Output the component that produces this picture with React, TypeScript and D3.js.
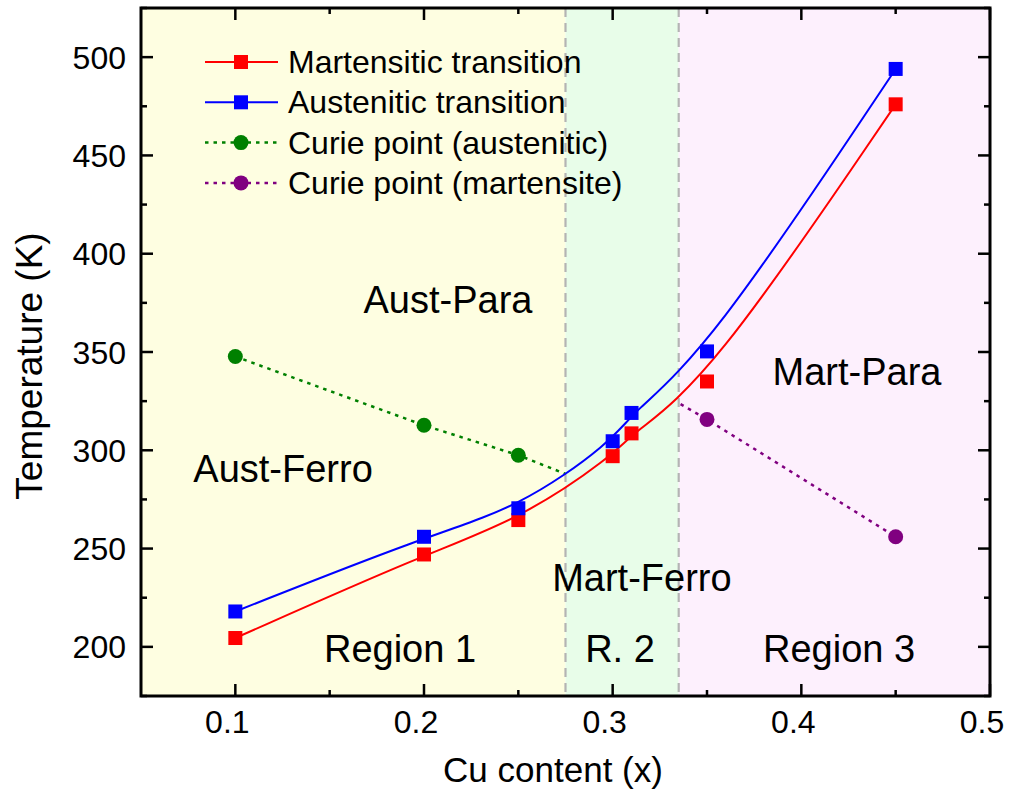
import React from "react";
import * as d3 from "d3";

// Cu content (x) for the transition measurements
const cuContent = [0.1, 0.2, 0.25, 0.3, 0.31, 0.35, 0.45];
// Martensitic transition temperature (K)
const martensitic = [204.5, 247, 264.5, 297, 308.6, 335, 476];
// Austenitic transition temperature (K)
const austenitic = [218, 256, 270.5, 304.6, 319, 350.3, 494];

// Curie point of the austenite phase (last entry: end of dotted guide, no marker)
const curieAustX = [0.1, 0.2, 0.25, 0.275];
const curieAustT = [347.7, 312.7, 297.5, 288];
const curieAustMarkers = 3;

// Curie point of the martensite phase (first entry: start of dotted guide, no marker)
const curieMartX = [0.336, 0.35, 0.45];
const curieMartT = [323.5, 315.7, 256];
const curieMartFirstMarker = 1;

// Phase-region boundaries along x
const regionEdges = [0.05, 0.275, 0.335, 0.5];
const regionFills = ["#fefee1", "#e8fde9", "#fdf0fd"];

const xMajorTicks = [0.1, 0.2, 0.3, 0.4, 0.5];
const xMinorTicks = [0.15, 0.25, 0.35, 0.45];
const yMajorTicks = [200, 250, 300, 350, 400, 450, 500];
const yMinorTicks = [175, 225, 275, 325, 375, 425, 475, 525];

// Phase and region annotations, anchored in data coordinates (text baseline)
const phaseLabels = [
  { text: "Aust-Para", x: 0.2127, t: 369.8 },
  { text: "Aust-Ferro", x: 0.1253, t: 283.9 },
  { text: "Mart-Ferro", x: 0.3155, t: 228.4 },
  { text: "Mart-Para", x: 0.4295, t: 333.2 },
  { text: "Region 1", x: 0.1873, t: 192.3 },
  { text: "R. 2", x: 0.3039, t: 192.3 },
  { text: "Region 3", x: 0.42, t: 192.3 },
];

const legendItems = [
  { label: "Martensitic transition", color: "#ff0000", kind: "square", dashed: false },
  { label: "Austenitic transition", color: "#0000ff", kind: "square", dashed: false },
  { label: "Curie point (austenitic)", color: "#008000", kind: "circle", dashed: true },
  { label: "Curie point (martensite)", color: "#800080", kind: "circle", dashed: true },
];

const W = 1010;
const H = 792;
const M = { left: 141, right: 990, top: 8, bottom: 696 };
const FONT = "'Liberation Sans', Arial, sans-serif";

export default function App() {
  const x = d3.scaleLinear().domain([0.05, 0.5]).range([M.left, M.right]);
  const y = d3.scaleLinear().domain([175, 525]).range([M.bottom, M.top]);

  const smooth = d3
    .line<[number, number]>()
    .x((d) => x(d[0]))
    .y((d) => y(d[1]))
    .curve(d3.curveBasis);
  const straight = d3
    .line<[number, number]>()
    .x((d) => x(d[0]))
    .y((d) => y(d[1]));

  const zip = (xs: number[], ys: number[]) => xs.map((v, i) => [v, ys[i]] as [number, number]);
  const mart = zip(cuContent, martensitic);
  const aust = zip(cuContent, austenitic);
  const cA = zip(curieAustX, curieAustT);
  const cM = zip(curieMartX, curieMartT);

  const sq = 14;
  const r = 7.5;
  const dotDash = "3.5,5";

  const square = (cx: number, cy: number, color: string, key: string) => (
    <rect key={key} x={cx - sq / 2} y={cy - sq / 2} width={sq} height={sq} fill={color} />
  );

  const majLen = 12;
  const minLen = 6;

  return (
    <svg
      width={W}
      height={H}
      style={{ position: "absolute", left: 0, top: 0, background: "#fff" }}
      fontFamily={FONT}
    >
      {/* phase region shading */}
      {regionFills.map((f, i) => (
        <rect
          key={"reg" + i}
          x={x(regionEdges[i])}
          y={M.top}
          width={x(regionEdges[i + 1]) - x(regionEdges[i])}
          height={M.bottom - M.top}
          fill={f}
        />
      ))}
      {/* region boundaries */}
      {regionEdges.slice(1, 3).map((e, i) => (
        <line
          key={"edge" + i}
          x1={x(e)}
          x2={x(e)}
          y1={M.top}
          y2={M.bottom}
          stroke="#b4b4b4"
          strokeWidth={2.2}
          strokeDasharray="9,6"
        />
      ))}

      {/* phase labels */}
      {phaseLabels.map((p) => (
        <text key={p.text} x={x(p.x)} y={y(p.t)} textAnchor="middle" fontSize={38} fill="#000">
          {p.text}
        </text>
      ))}

      {/* Curie point guides */}
      <path d={straight(cA) || ""} fill="none" stroke="#008000" strokeWidth={2.5} strokeDasharray={dotDash} />
      <path d={straight(cM) || ""} fill="none" stroke="#800080" strokeWidth={2.5} strokeDasharray={dotDash} />

      {/* transition curves */}
      <path d={smooth(mart) || ""} fill="none" stroke="#ff0000" strokeWidth={2} />
      <path d={smooth(aust) || ""} fill="none" stroke="#0000ff" strokeWidth={2} />

      {mart.map((d, i) => square(x(d[0]), y(d[1]), "#ff0000", "m" + i))}
      {aust.map((d, i) => square(x(d[0]), y(d[1]), "#0000ff", "a" + i))}
      {cA.slice(0, curieAustMarkers).map((d, i) => (
        <circle key={"ca" + i} cx={x(d[0])} cy={y(d[1])} r={r} fill="#008000" />
      ))}
      {cM.slice(curieMartFirstMarker).map((d, i) => (
        <circle key={"cm" + i} cx={x(d[0])} cy={y(d[1])} r={r} fill="#800080" />
      ))}

      {/* legend */}
      {legendItems.map((it, i) => {
        const cy = 62 + i * 40.3;
        return (
          <g key={it.label}>
            <line
              x1={205}
              x2={278}
              y1={cy}
              y2={cy}
              stroke={it.color}
              strokeWidth={it.dashed ? 2.5 : 2}
              strokeDasharray={it.dashed ? dotDash : undefined}
            />
            {it.kind === "square" ? (
              <rect x={241 - sq / 2} y={cy - sq / 2} width={sq} height={sq} fill={it.color} />
            ) : (
              <circle cx={241} cy={cy} r={r} fill={it.color} />
            )}
            <text x={288} y={cy + 11} fontSize={32} fill="#000">
              {it.label}
            </text>
          </g>
        );
      })}

      {/* frame ticks: all inward, mirrored on all sides */}
      <g stroke="#000" strokeWidth={2.5}>
        {xMajorTicks.map((t) => (
          <g key={"xM" + t}>
            <line x1={x(t)} x2={x(t)} y1={M.bottom} y2={M.bottom - majLen} />
            <line x1={x(t)} x2={x(t)} y1={M.top} y2={M.top + majLen} />
          </g>
        ))}
        {xMinorTicks.map((t) => (
          <g key={"xm" + t}>
            <line x1={x(t)} x2={x(t)} y1={M.bottom} y2={M.bottom - minLen} />
            <line x1={x(t)} x2={x(t)} y1={M.top} y2={M.top + minLen} />
          </g>
        ))}
        {yMajorTicks.map((t) => (
          <g key={"yM" + t}>
            <line x1={M.left} x2={M.left + majLen} y1={y(t)} y2={y(t)} />
            <line x1={M.right} x2={M.right - majLen} y1={y(t)} y2={y(t)} />
          </g>
        ))}
        {yMinorTicks.map((t) => (
          <g key={"ym" + t}>
            <line x1={M.left} x2={M.left + minLen} y1={y(t)} y2={y(t)} />
            <line x1={M.right} x2={M.right - minLen} y1={y(t)} y2={y(t)} />
          </g>
        ))}
      </g>
      <rect
        x={M.left}
        y={M.top}
        width={M.right - M.left}
        height={M.bottom - M.top}
        fill="none"
        stroke="#000"
        strokeWidth={3}
      />

      {/* tick labels */}
      {xMajorTicks.map((t) => (
        <text key={"xl" + t} x={x(t) - 8} y={733} textAnchor="middle" fontSize={32} fill="#000">
          {d3.format(".1f")(t)}
        </text>
      ))}
      {yMajorTicks.map((t) => (
        <text key={"yl" + t} x={126} y={y(t) + 11.5} textAnchor="end" fontSize={32} fill="#000">
          {t}
        </text>
      ))}

      {/* axis titles */}
      <text x={553} y={782} textAnchor="middle" fontSize={35} fill="#000">
        Cu content (x)
      </text>
      <text
        transform={`translate(42, 366) rotate(-90)`}
        textAnchor="middle"
        fontSize={37}
        fill="#000"
      >
        Temperature (K)
      </text>
    </svg>
  );
}
